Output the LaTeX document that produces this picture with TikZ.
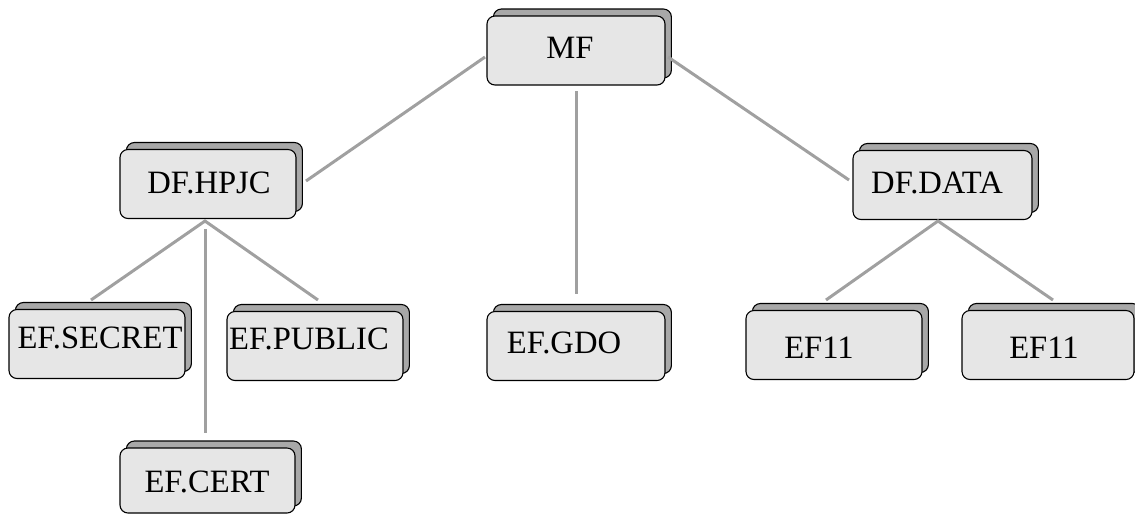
\documentclass[tikz,border=0pt]{standalone}
\usepackage{fontspec}
\setmainfont{Liberation Serif}
\usetikzlibrary{shadows}
\definecolor{frontgray}{RGB}{230,230,230}
\definecolor{backgray}{RGB}{168,168,168}
\definecolor{linegray}{RGB}{160,160,160}
\tikzset{
  boxnode/.style={draw=black, line width=0.55pt, fill=frontgray, rounded corners=4pt,
    inner sep=0pt, minimum width=88pt, minimum height=34.5pt,
    copy shadow={shadow xshift=3.2pt, shadow yshift=3.5pt, fill=backgray, draw=black, line width=0.55pt}},
  lbl/.style={anchor=base, inner sep=0pt, font=\fontsize{16.3}{19}\selectfont},
  conn/.style={draw=linegray, line width=1.5pt}
}
\begin{document}
\begin{tikzpicture}[x=0.5pt,y=-0.5pt]
\useasboundingbox (0,0) rectangle (1135,516);
% boxes (front rectangle centres)
\node[boxnode, minimum width=89pt] (mf) at (576,50.5) {};
\node[boxnode] (hpjc) at (208,184) {};
\node[boxnode, minimum width=89.5pt] (data) at (942.5,185) {};
\node[boxnode] (secret) at (97,344) {};
\node[boxnode] (public) at (315,346) {};
\node[boxnode, minimum width=89pt] (gdo) at (576,346) {};
\node[boxnode] (ef11a) at (834,345) {};
\node[boxnode, minimum width=86pt] (ef11b) at (1048,345) {};
\node[boxnode, minimum width=87.5pt, minimum height=32.5pt] (cert) at (207.5,480.5) {};
% texts
\node[lbl] (tmf) at (570,58) {MF};
\node[lbl] (thpjc) at (209,193) {DF.HPJC};
\node[lbl] (tdata) at (937,193) {DF.DATA};
\node[lbl] (tsecret) at (100,348) {EF.SECRET};
\node[lbl] (tpublic) at (309,349) {EF.PUBLIC};
\node[lbl] (tgdo) at (564,353) {EF.GDO};
\node[lbl] (tef11a) at (819,358) {EF11};
\node[lbl] (tef11b) at (1044,358) {EF11};
\node[lbl] (tcert) at (207,492) {EF.CERT};
% connector end points
\coordinate (mfL) at (485,57);
\coordinate (mfR) at (668,57);
\coordinate (mfB) at (576,91);
\coordinate (hpjcR) at (306,181);
\coordinate (dataL) at (849,180);
\coordinate (gdoT) at (576,294);
\coordinate (hApex) at (205,221);
\coordinate (hVert) at (205,229);
\coordinate (secretT) at (91,300);
\coordinate (publicT) at (318,300);
\coordinate (certT) at (205,433);
\coordinate (dApex) at (938,221);
\coordinate (ef11aT) at (826,300);
\coordinate (ef11bT) at (1053,300);
% connectors
\draw[conn] (mfL) -- (hpjcR);
\draw[conn] (mfR) -- (dataL);
\draw[conn] (mfB) -- (gdoT);
\draw[conn] (secretT) -- (hApex) -- (publicT);
\draw[conn] (hVert) -- (certT);
\draw[conn] (ef11aT) -- (dApex) -- (ef11bT);
\end{tikzpicture}
\end{document}
